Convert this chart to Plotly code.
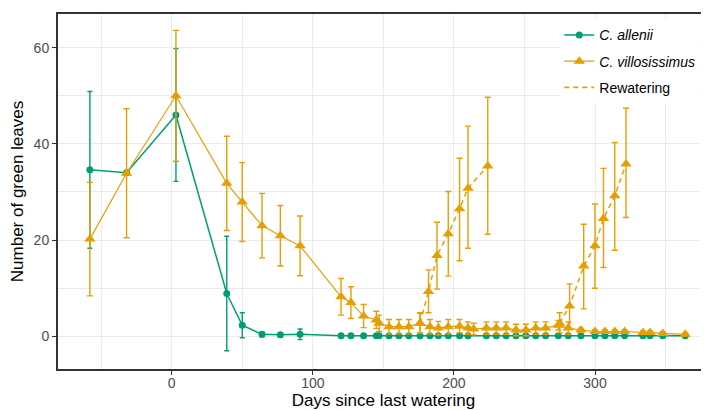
import plotly.graph_objects as go

GREEN = "#009E73"
ORANGE = "#E69F00"

# C. allenii (drying)
allenii_days = [-58, -32, 3, 39, 50, 64, 77, 91, 120, 127, 136, 145, 147, 154, 161, 168, 176, 183,
                189, 196, 204, 210, 223, 230, 237, 244, 251, 258, 265, 274, 281, 290, 300, 307,
                314, 321, 334, 339, 348, 364]
allenii_mean = [34.6, 34.0, 46.0, 8.9, 2.3, 0.4, 0.3, 0.4, 0.1, 0.1, 0.1, 0.1, 0.1, 0.1, 0.1, 0.1,
                0.1, 0.1, 0.1, 0.1, 0.1, 0.1, 0.1, 0.1, 0.1, 0.1, 0.1, 0.1, 0.1, 0.1, 0.1, 0.1,
                0.1, 0.1, 0.1, 0.1, 0.1, 0.1, 0.1, 0.1]
allenii_err = [16.3, 0.5, 13.8, 11.9, 2.6, 0.5, 0.4, 1.1, 0.2, 0.2, 0.2, 0.2, 0.2, 0.2, 0.2, 0.2,
               0.2, 0.2, 0.2, 0.2, 0.2, 0.2, 0.2, 0.2, 0.2, 0.2, 0.2, 0.2, 0.2, 0.2, 0.2, 0.2,
               0.2, 0.2, 0.2, 0.2, 0.2, 0.2, 0.2, 0.2]

# C. villosissimus (drying)
vill_days = [-58, -32, 3, 39, 50, 64, 77, 91, 120, 127, 136, 145, 147, 154, 161, 168, 176, 183,
             189, 196, 204, 210, 214, 223, 230, 237, 244, 251, 258, 265, 274, 281, 290, 300,
             307, 314, 321, 334, 339, 348, 364]
vill_mean = [20.2, 33.9, 50.0, 31.8, 27.9, 23.0, 20.9, 18.8, 8.2, 7.0, 4.2, 3.4, 2.7, 2.0, 2.0,
             2.0, 2.7, 2.0, 1.7, 2.0, 2.1, 1.7, 1.5, 1.7, 1.7, 1.7, 1.3, 1.3, 1.7, 1.7, 2.3,
             1.7, 1.3, 1.0, 1.0, 1.0, 1.0, 0.8, 0.8, 0.6, 0.4]
vill_err = [11.8, 13.4, 13.6, 9.8, 8.2, 6.7, 6.3, 6.2, 3.8, 3.3, 2.4, 1.8, 1.7, 1.5, 1.5, 1.5,
            2.1, 1.5, 1.4, 1.5, 1.4, 1.3, 1.2, 1.3, 1.3, 1.3, 1.2, 1.2, 1.3, 1.3, 1.0, 1.3,
            0.4, 0.3, 0.3, 0.3, 0.3, 0.3, 0.3, 0.3, 0.3]

# C. villosissimus rewatering events
rw1_days = [176, 182, 188, 196, 204, 210, 224]
rw1_mean = [2.7, 9.3, 16.8, 21.3, 26.5, 30.8, 35.4]
rw1_low = [0.7, 4.9, 9.8, 12.5, 15.7, 18.3, 21.2]
rw1_high = [4.9, 13.8, 23.7, 30.1, 37.0, 43.7, 49.7]

rw2_days = [275, 282, 292, 300, 306, 314, 322]
rw2_mean = [2.7, 6.3, 14.6, 18.8, 24.5, 29.2, 35.8]
rw2_low = [0.7, 1.5, 5.7, 10.0, 14.3, 17.9, 24.7]
rw2_high = [4.9, 10.9, 23.3, 27.5, 34.9, 40.3, 47.4]

x_ticks = [0, 100, 200, 300]
y_ticks = [0, 20, 40, 60]

DASH = "5px,4px"

fig = go.Figure()

fig.add_trace(go.Scatter(
    x=allenii_days, y=allenii_mean, mode="lines+markers", name="<i>C. allenii</i>",
    line=dict(color=GREEN, width=1.5),
    marker=dict(symbol="circle", size=7, color=GREEN),
    error_y=dict(type="data", array=allenii_err, color=GREEN, thickness=1.4, width=2.5),
    legendgroup="a",
))
fig.add_trace(go.Scatter(
    x=vill_days, y=vill_mean, mode="lines+markers", name="<i>C. villosissimus</i>",
    line=dict(color=ORANGE, width=1.2),
    marker=dict(symbol="triangle-up", size=10, color=ORANGE),
    error_y=dict(type="data", array=vill_err, color=ORANGE, thickness=1.4, width=3),
    legendgroup="b",
))
for d, m, lo, hi in [(rw1_days, rw1_mean, rw1_low, rw1_high), (rw2_days, rw2_mean, rw2_low, rw2_high)]:
    fig.add_trace(go.Scatter(
        x=d, y=m, mode="lines+markers", showlegend=False,
        line=dict(color=ORANGE, width=1.5, dash=DASH),
        marker=dict(symbol="triangle-up", size=10, color=ORANGE),
        error_y=dict(type="data", symmetric=False,
                     array=[h - v for h, v in zip(hi, m)],
                     arrayminus=[v - l for v, l in zip(m, lo)],
                     color=ORANGE, thickness=1.4, width=3),
        legendgroup="c",
    ))
fig.add_trace(go.Scatter(
    x=[None], y=[None], mode="lines", name="Rewatering",
    line=dict(color=ORANGE, width=1.6, dash=DASH), legendgroup="c",
))

grid = "#EBEBEB"
fig.update_layout(
    width=701, height=402,
    margin=dict(l=50, r=0, t=6, b=41),
    paper_bgcolor="white", plot_bgcolor="white",
    font=dict(family="Liberation Sans, Arial, sans-serif", color="black"),
    legend=dict(x=0.77, y=0.985, xanchor="left", yanchor="top", bgcolor="white",
                font=dict(size=14, color="black"), tracegroupgap=5, itemwidth=30),
    xaxis=dict(range=[-80.6, 380.8], tickvals=x_ticks, showgrid=True, gridcolor=grid, gridwidth=1.2,
               minor=dict(tickvals=[-50, 50, 150, 250, 350], showgrid=True, gridcolor=grid, gridwidth=0.6),
               showline=True, linecolor="#333333", linewidth=2, mirror=True,
               ticks="outside", ticklen=4, tickcolor="#333333", zeroline=False,
               tickfont=dict(size=14, color="#4D4D4D"), ticklabelstandoff=-4,
               title=dict(text="Days since last watering", font=dict(size=17), standoff=4)),
    yaxis=dict(range=[-6.8, 67], tickvals=y_ticks, showgrid=True, gridcolor=grid, gridwidth=1.2,
               minor=dict(tickvals=[10, 30, 50], showgrid=True, gridcolor=grid, gridwidth=0.6),
               showline=True, linecolor="#333333", linewidth=2, mirror=False,
               ticks="outside", ticklen=4, tickcolor="#333333", zeroline=False,
               tickfont=dict(size=14, color="#4D4D4D"),
               title=dict(text="Number of green leaves", font=dict(size=17), standoff=6)),
)

fig.write_html("out.html")
